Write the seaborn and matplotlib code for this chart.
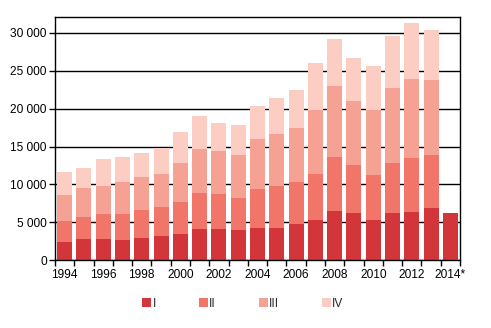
import matplotlib
matplotlib.use("Agg")
import matplotlib.pyplot as plt
import seaborn as sns
import pandas as pd
import numpy as np
from matplotlib.patches import Patch
from matplotlib.ticker import FuncFormatter, FixedLocator

years = ["1994", "1995", "1996", "1997", "1998", "1999", "2000", "2001", "2002", "2003",
         "2004", "2005", "2006", "2007", "2008", "2009", "2010", "2011", "2012", "2013", "2014*"]
q1 = [2410, 2810, 2810, 2680, 2940, 3200, 3470, 4120, 4120, 3990,
      4250, 4250, 4780, 5310, 6490, 6230, 5310, 6230, 6360, 6890, 6230]
q2 = [2770, 2890, 3290, 3420, 3680, 3820, 4210, 4740, 4610, 4210,
      5130, 5530, 5530, 6050, 7110, 6310, 5920, 6580, 7110, 6970, np.nan]
q3 = [3420, 3820, 3680, 4210, 4340, 4340, 5130, 5790, 5660, 5660,
      6580, 6840, 7110, 8420, 9340, 8420, 8550, 9870, 10400, 9870, np.nan]
q4 = [3030, 2630, 3550, 3290, 3160, 3420, 4080, 4340, 3680, 3950,
      4340, 4740, 5000, 6180, 6180, 5660, 5790, 6840, 7370, 6580, np.nan]
series = ["I", "II", "III", "IV"]
colors = ["#d2363a", "#f2756a", "#f5a193", "#fccdc3"]

df = pd.DataFrame({"year": years, "I": q1, "II": q2, "III": q3, "IV": q4})
df["c1"] = df["I"]
df["c2"] = df["c1"] + df["II"]
df["c3"] = df["c2"] + df["III"]
df["c4"] = df["c3"] + df["IV"]

sns.set_theme(style="white")
plt.rcParams["font.family"] = ["Liberation Sans", "DejaVu Sans"]
plt.rcParams["font.size"] = 8.6

fig = plt.figure(figsize=(4.91, 3.28), dpi=100)
ax = fig.add_axes([0.112, 0.206, 0.825, 0.741])
ax.set_axisbelow(True)
for col, c in zip(["c4", "c3", "c2", "c1"], colors[::-1]):
    sns.barplot(data=df, x="year", y=col, order=years, color=c, width=0.78,
                saturation=1, ax=ax, edgecolor="none", linewidth=0)

ax.set_xlim(-0.5, len(years) - 0.5)
ax.set_ylim(0, 32000)
ax.set_yticks(np.arange(0, 30001, 5000))
ax.yaxis.set_major_formatter(FuncFormatter(lambda v, p: f"{int(v):,}".replace(",", " ")))
ax.grid(axis="y", color="black", linewidth=1)
ax.grid(axis="x", visible=False)

ax.set_xticks(range(len(years)))
ax.set_xticklabels([y if i % 2 == 0 else "" for i, y in enumerate(years)])
ax.xaxis.set_minor_locator(FixedLocator(np.arange(-0.5, len(years), 1.0)))
ax.tick_params(axis="x", which="major", length=0, pad=6, labelsize=8.6, colors="black")
ax.tick_params(axis="x", which="minor", length=4, width=1, color="black", direction="out", bottom=True)
ax.tick_params(axis="y", length=4, width=1, color="black", direction="out", left=True, labelsize=8.6, pad=2, labelcolor="black")
ax.set_xlabel("")
ax.set_ylabel("")
for s in ax.spines.values():
    s.set_visible(True)
    s.set_color("black")
    s.set_linewidth(1)

handles = [Patch(facecolor=c, edgecolor="none", label=s) for c, s in zip(colors, series)]
fig.legend(handles=handles, loc="center", bbox_to_anchor=(0.495, 0.074), ncol=4, frameon=False,
           handlelength=0.75, handleheight=0.75, handletextpad=0.1, columnspacing=3.6,
           fontsize=8.6)

fig.savefig("out.png", dpi=100)
